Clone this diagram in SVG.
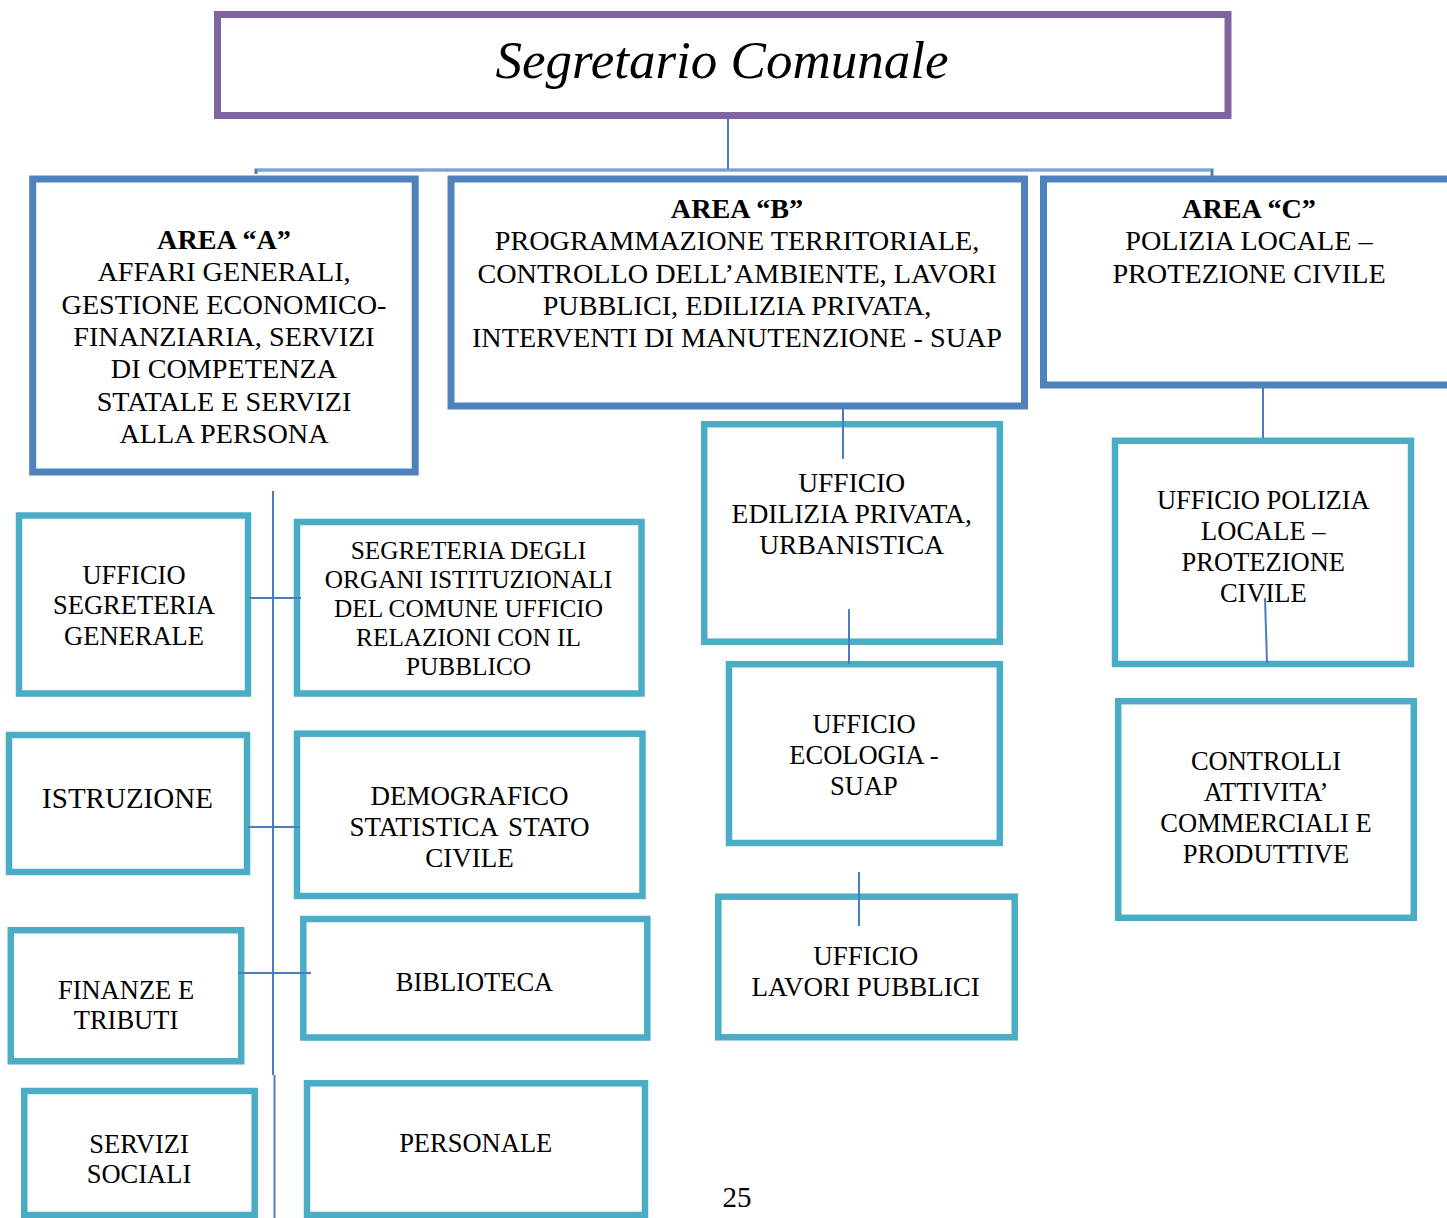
<svg xmlns="http://www.w3.org/2000/svg" width="1447" height="1218" viewBox="0 0 1447 1218">
<style>
text{font-family:"Liberation Serif","Times New Roman",serif;fill:#000;text-anchor:middle}
.t{font-size:53px;font-style:italic}
.a{font-size:28.2px}
.b{font-weight:bold}
.c{font-size:26.5px}
.c2{font-size:27.5px}
.c3{font-size:27px}
.s{font-size:25.3px}
.big{font-size:29px}
.top{fill:#fff;stroke:#8064a2;stroke-width:7}
.area{fill:#fff;stroke:#4f81bd;stroke-width:7}
.box{fill:#fff;stroke:#4bacc6;stroke-width:6.5}
.ln{stroke:#4a7ebb;stroke-width:2;fill:none}
</style>
<rect width="1447" height="1218" fill="#fff"/>
<g id="segretario">
<rect class="top" x="217.5" y="14.5" width="1010.5" height="101"/>
<text class="t" x="722" y="78">Segretario Comunale</text>
</g>
<g id="areaA">
<rect class="area" x="32.7" y="179" width="382.5" height="293"/>
<text class="a" x="224" y="249"><tspan class="b">AREA “A”</tspan><tspan x="224" dy="32.3">AFFARI GENERALI,</tspan><tspan x="224" dy="32.3">GESTIONE ECONOMICO-</tspan><tspan x="224" dy="32.3">FINANZIARIA, SERVIZI</tspan><tspan x="224" dy="32.3">DI COMPETENZA</tspan><tspan x="224" dy="32.3">STATALE E SERVIZI</tspan><tspan x="224" dy="32.3">ALLA PERSONA</tspan></text>
</g>
<g id="areaB">
<rect class="area" x="451" y="179" width="573.5" height="227"/>
<text class="a" x="737" y="218"><tspan class="b">AREA “B”</tspan><tspan x="737" dy="32.3">PROGRAMMAZIONE TERRITORIALE,</tspan><tspan x="737" dy="32.3">CONTROLLO DELL’AMBIENTE, LAVORI</tspan><tspan x="737" dy="32.3">PUBBLICI, EDILIZIA PRIVATA,</tspan><tspan x="737" dy="32.3">INTERVENTI DI MANUTENZIONE - SUAP</tspan></text>
</g>
<g id="areaC">
<rect class="area" x="1043.5" y="179" width="420" height="206"/>
<text class="a" x="1249" y="218"><tspan class="b">AREA “C”</tspan><tspan x="1249" dy="32.3">POLIZIA LOCALE –</tspan><tspan x="1249" dy="32.3">PROTEZIONE CIVILE</tspan></text>
</g>
<g id="segreteria-generale">
<rect class="box" x="19" y="515.5" width="229" height="178"/>
<text class="c" x="134" y="583.5"><tspan>UFFICIO</tspan><tspan x="134" dy="30.8">SEGRETERIA</tspan><tspan x="134" dy="30.8">GENERALE</tspan></text>
</g>
<g id="segreteria-organi">
<rect class="box" x="297" y="522" width="344.5" height="171.5"/>
<text class="s" x="468.5" y="558.5"><tspan>SEGRETERIA DEGLI</tspan><tspan x="468.5" dy="29.2">ORGANI ISTITUZIONALI</tspan><tspan x="468.5" dy="29.2">DEL COMUNE UFFICIO</tspan><tspan x="468.5" dy="29.2">RELAZIONI CON IL</tspan><tspan x="468.5" dy="29.2">PUBBLICO</tspan></text>
</g>
<g id="istruzione">
<rect class="box" x="9" y="735" width="238" height="137"/>
<text class="big" x="127.5" y="808">ISTRUZIONE</text>
</g>
<g id="demografico">
<rect class="box" x="297" y="733.7" width="345.5" height="162.3"/>
<text class="c3" x="469.5" y="805"><tspan>DEMOGRAFICO</tspan><tspan x="469.5" dy="30.8" word-spacing="4">STATISTICA STATO</tspan><tspan x="469.5" dy="30.8">CIVILE</tspan></text>
</g>
<g id="finanze">
<rect class="box" x="10.8" y="930.2" width="230.4" height="131.1"/>
<text class="c" x="126" y="998.5"><tspan>FINANZE E</tspan><tspan x="126" dy="30">TRIBUTI</tspan></text>
</g>
<g id="biblioteca">
<rect class="box" x="303.3" y="919" width="344" height="118.5"/>
<text class="c" x="474.5" y="990.7">BIBLIOTECA</text>
</g>
<g id="servizi-sociali">
<rect class="box" x="24.3" y="1091" width="230.4" height="124"/>
<text class="c" x="139" y="1152.7"><tspan>SERVIZI</tspan><tspan x="139" dy="30.6">SOCIALI</tspan></text>
</g>
<g id="personale">
<rect class="box" x="307" y="1083.3" width="338" height="131.7"/>
<text class="c" x="475.7" y="1151.7">PERSONALE</text>
</g>
<g id="edilizia">
<rect class="box" x="704.2" y="424.2" width="295.6" height="217.5"/>
<text class="c2" x="851.7" y="492"><tspan>UFFICIO</tspan><tspan x="851.7" dy="31">EDILIZIA PRIVATA,</tspan><tspan x="851.7" dy="31">URBANISTICA</tspan></text>
</g>
<g id="ecologia">
<rect class="box" x="729" y="664.2" width="270.8" height="178.8"/>
<text class="c" x="864" y="733"><tspan>UFFICIO</tspan><tspan x="864" dy="31">ECOLOGIA -</tspan><tspan x="864" dy="31">SUAP</tspan></text>
</g>
<g id="lavori-pubblici">
<rect class="box" x="718.3" y="896.7" width="296.4" height="140.6"/>
<text class="c3" x="865.7" y="965"><tspan>UFFICIO</tspan><tspan x="865.7" dy="30.7">LAVORI PUBBLICI</tspan></text>
</g>
<g id="polizia">
<rect class="box" x="1115" y="440.8" width="296" height="223.2"/>
<text class="c" x="1263.3" y="508.5"><tspan>UFFICIO POLIZIA</tspan><tspan x="1263.3" dy="31">LOCALE –</tspan><tspan x="1263.3" dy="31">PROTEZIONE</tspan><tspan x="1263.3" dy="31">CIVILE</tspan></text>
</g>
<g id="controlli">
<rect class="box" x="1118.2" y="701.2" width="295.6" height="216.6"/>
<text class="c" x="1266" y="770"><tspan>CONTROLLI</tspan><tspan x="1266" dy="31">ATTIVITA’</tspan><tspan x="1266" dy="31">COMMERCIALI E</tspan><tspan x="1266" dy="31">PRODUTTIVE</tspan></text>
</g>
<g id="connectors">
<line class="ln" x1="728" y1="118" x2="728" y2="170"/>
<path d="M256,174 V170 H1212 V177" fill="none" stroke="#4a7ebb" stroke-width="3"/>
<line x1="257" y1="170" x2="1211" y2="170" stroke="#a9c4e6" stroke-width="1"/>
<line class="ln" x1="273" y1="491" x2="273" y2="1075"/>
<line class="ln" x1="274.5" y1="1075" x2="274.5" y2="1218"/>
<line class="ln" x1="249" y1="598" x2="301" y2="598"/>
<line class="ln" x1="248" y1="827" x2="300" y2="827"/>
<line class="ln" x1="238" y1="973" x2="311" y2="973"/>
<line class="ln" x1="843" y1="403" x2="843" y2="459"/>
<line class="ln" x1="849" y1="609" x2="849" y2="664"/>
<line class="ln" x1="859" y1="872" x2="859" y2="926"/>
<line class="ln" x1="1263" y1="388" x2="1263" y2="438"/>
<line class="ln" x1="1265" y1="598" x2="1267" y2="663"/>
</g>
<text x="737" y="1207" style="font-size:29px">25</text>
</svg>
